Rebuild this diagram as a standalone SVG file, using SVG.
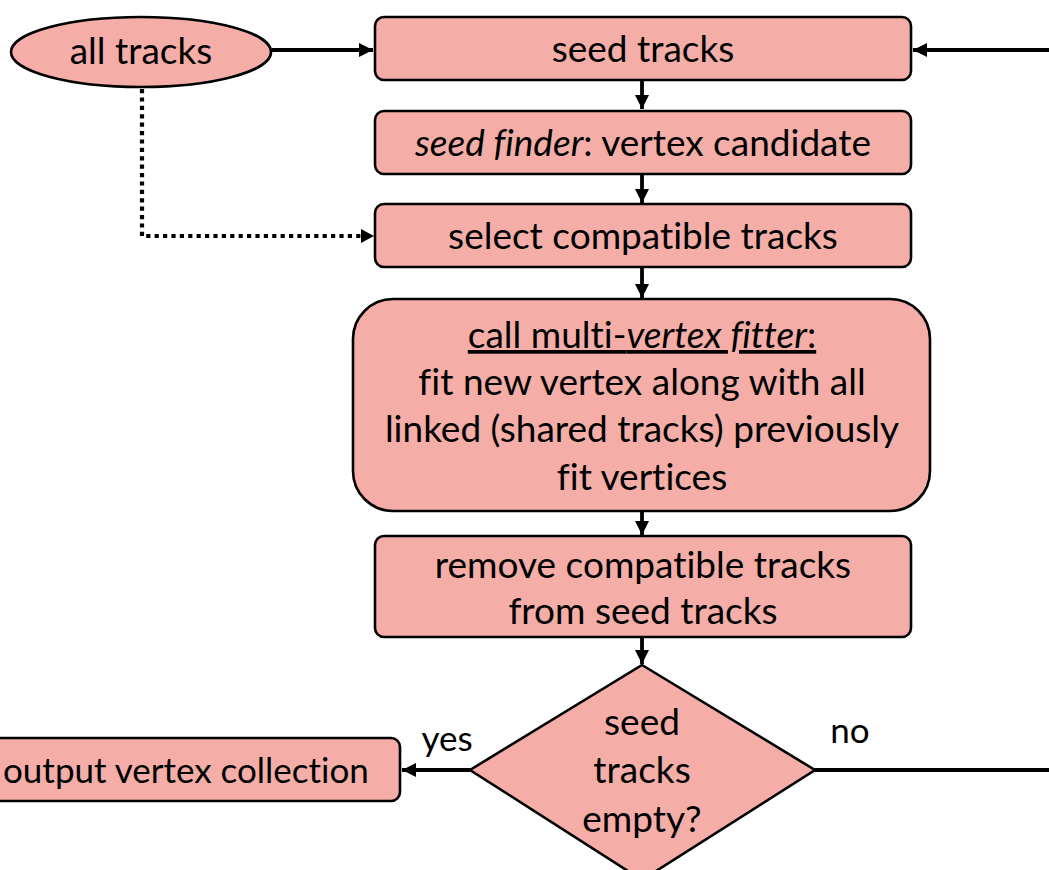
<svg xmlns="http://www.w3.org/2000/svg" width="1049" height="870" viewBox="0 0 1049 870">
<defs>
<marker id="ah" viewBox="0 0 10 10" refX="10" refY="5" markerWidth="3.8" markerHeight="3.8" orient="auto" markerUnits="strokeWidth"><path d="M0,0 L10,5 L0,10 z" fill="#000"/></marker>
<style>
.n{fill:#F4AEA7;stroke:#000;stroke-width:2.6}
.t{font-family:Lato,"Liberation Sans",sans-serif;font-size:37px;fill:#000;text-anchor:middle;font-variant-ligatures:none}
.c{stroke:#000;stroke-width:3.8;fill:none}
.d{stroke:#000;stroke-width:4.2;fill:none;stroke-dasharray:4.2 4.2}
</style>
</defs>
<rect width="1049" height="870" fill="#fff"/>
<g id="connectors">
<path class="c" d="M272,50 H373" marker-end="url(#ah)"/>
<path class="c" d="M1049,50 H913" marker-end="url(#ah)"/>
<path class="c" d="M642,80 V109" marker-end="url(#ah)"/>
<path class="c" d="M642,173 V203" marker-end="url(#ah)"/>
<path class="c" d="M642,267 V298" marker-end="url(#ah)"/>
<path class="c" d="M642,511 V535" marker-end="url(#ah)"/>
<path class="c" d="M642,637 V664" marker-end="url(#ah)"/>
<path class="c" d="M470,770 H402" marker-end="url(#ah)"/>
<path class="c" d="M815,770 H1049"/>
<path class="d" d="M142,89 V236 H362"/>
<path d="M361,229 L374,236 L361,243 z" fill="#000"/>
<text class="t" x="447" y="751" style="font-size:35px">yes</text>
<text class="t" x="850" y="743" style="font-size:35px">no</text>
</g>
<g id="all-tracks">
<ellipse class="n" cx="141" cy="52" rx="130" ry="35"/>
<text class="t" x="141" y="64">all tracks</text>
</g>
<g id="seed-tracks">
<rect class="n" x="375" y="17" width="536" height="63" rx="9"/>
<text class="t" x="643" y="62">seed tracks</text>
</g>
<g id="seed-finder">
<rect class="n" x="375" y="111" width="536" height="63" rx="9"/>
<text class="t" x="643" y="156"><tspan font-style="italic">seed finder</tspan>: vertex candidate</text>
</g>
<g id="select-compatible">
<rect class="n" x="375" y="204" width="536" height="63" rx="9"/>
<text class="t" x="643" y="249">select compatible tracks</text>
</g>
<g id="multi-vertex-fitter">
<rect class="n" x="353" y="299" width="577" height="212" rx="40"/>
<text class="t" x="642" y="348" text-decoration="underline">call multi-<tspan font-style="italic">vertex fitter</tspan>:</text>
<text class="t" x="642" y="395">fit new vertex along with all</text>
<text class="t" x="642" y="442">linked (shared tracks) previously</text>
<text class="t" x="642" y="490">fit vertices</text>
</g>
<g id="remove-compatible">
<rect class="n" x="375" y="536" width="536" height="101" rx="9"/>
<text class="t" x="643" y="578">remove compatible tracks</text>
<text class="t" x="643" y="624">from seed tracks</text>
</g>
<g id="seed-empty">
<path class="n" d="M642,665 L815,770 L642,880 L470,770 Z"/>
<text class="t" x="642" y="735">seed</text>
<text class="t" x="642" y="783">tracks</text>
<text class="t" x="642" y="832">empty?</text>
</g>
<g id="output-vertex">
<rect class="n" x="-10" y="738" width="410" height="63" rx="9"/>
<text class="t" x="3" y="783" style="font-size:35px;text-anchor:start">output vertex collection</text>
</g>
</svg>
